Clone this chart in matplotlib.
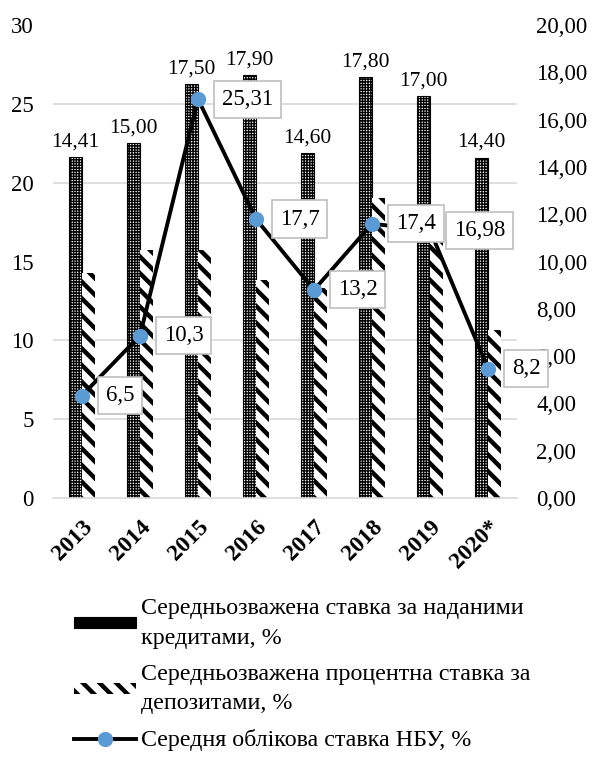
import numpy as np
import matplotlib
matplotlib.use("Agg")
import matplotlib.pyplot as plt
from matplotlib.patches import Patch
from matplotlib.lines import Line2D

plt.rcParams['font.family'] = ['Liberation Serif', 'DejaVu Serif']

# Дані
years = ['2013', '2014', '2015', '2016', '2017', '2018', '2019', '2020*']
credit_rate = [14.41, 15.00, 17.50, 17.90, 14.60, 17.80, 17.00, 14.40]
deposit_rate = [9.5, 10.5, 10.5, 9.2, 8.9, 12.7, 11.4, 7.1]
nbu_rate = [6.5, 10.3, 25.31, 17.7, 13.2, 17.4, 16.98, 8.2]

credit_label = 'Середньозважена ставка за наданими\nкредитами, %'
deposit_label = 'Середньозважена процентна ставка за\nдепозитами, %'
nbu_label = 'Середня облікова ставка НБУ, %'

x = np.arange(len(years))
w = 0.22
blue = '#5b9bd5'

fig = plt.figure(figsize=(5.95, 7.62), dpi=100)
ax = fig.add_axes([0.089, 0.3465, 0.78, 0.6205])  # стовпці, права шкала

# стовпці: кредити (густа сітка)
plt.rcParams['hatch.linewidth'] = 1.0
ax.bar(x - w / 2, credit_rate, w, facecolor='white', edgecolor='black',
       hatch='++++++', linewidth=0.8, zorder=2)
# стовпці: депозити (товсті косі смуги)
plt.rcParams['hatch.linewidth'] = 3.2
ax.bar(x + w / 2, deposit_rate, w, facecolor='white', edgecolor='black',
       hatch='\\\\', linewidth=0, zorder=2)

for xi, v in zip(x, credit_rate):
    ax.annotate(f'{v:.2f}'.replace('.', ','), (xi - w / 2, v), xytext=(0, 4),
                textcoords='offset points', ha='center', va='bottom', fontsize=15.5)

ax.set_ylim(0, 20)
ax.set_xlim(-0.5, len(years) - 0.5)

# лінія облікової ставки, ліва шкала
ax2 = ax.twinx()
ax2.plot(x, nbu_rate, color='black', linewidth=2.8, marker='o', markersize=10,
         markerfacecolor=blue, markeredgecolor=blue, zorder=3)
for xi, v in zip(x, nbu_rate):
    ax2.annotate(str(v).replace('.', ','), (xi, v), xytext=(17, 0),
                 textcoords='offset points', ha='left', va='center', fontsize=16.5,
                 bbox=dict(boxstyle='square,pad=0.35', facecolor='white',
                           edgecolor='#bfbfbf', linewidth=1.2), zorder=4)
ax2.set_ylim(0, 30)
ax2.set_yticks(np.arange(0, 31, 5))
ax2.yaxis.tick_left()
ax2.tick_params(axis='y', length=0, labelsize=16.5, pad=14)
for s in ax2.spines.values():
    s.set_visible(False)
ax2.spines['bottom'].set_visible(True)
ax2.spines['bottom'].set_color('#d9d9d9')
ax2.spines['bottom'].set_linewidth(1.2)

# права шкала для стовпців
ax.yaxis.tick_right()
ax.set_yticks(np.arange(0, 20.01, 2))
ax.set_yticklabels([f'{v:.2f}'.replace('.', ',') for v in np.arange(0, 20.01, 2)])
# сітка через кожні 5 одиниць лівої шкали
ax.set_yticks(np.linspace(0, 20, 7), minor=True)
ax.yaxis.grid(True, which='minor', color='#d9d9d9', linewidth=1.2, zorder=0)
ax.set_axisbelow(True)
ax.tick_params(axis='y', which='both', length=0, labelsize=16.5, pad=14,
               left=False, labelleft=False, right=True, labelright=True)
ax.set_xticks(x)
ax.set_xticklabels(years, rotation=45, ha='right', va='top', rotation_mode='anchor',
                   fontsize=17, fontweight='bold')
ax.tick_params(axis='x', length=0, pad=13)
for s in ax.spines.values():
    s.set_visible(False)

# легенда
plt.rcParams['hatch.linewidth'] = 1.0
h1 = Patch(facecolor='white', edgecolor='black', hatch='+++++', linewidth=0.8)
plt.rcParams['hatch.linewidth'] = 3.2
h2 = Patch(facecolor='white', edgecolor='black', hatch='\\\\', linewidth=0)
h3 = Line2D([], [], color='black', linewidth=2.8, marker='o', markersize=10,
            markerfacecolor=blue, markeredgecolor=blue)
leg = fig.legend([h1, h2, h3], [credit_label, deposit_label, nbu_label],
                 loc='upper left', bbox_to_anchor=(0.108, 0.228), frameon=False,
                 fontsize=17.3, handlelength=2.6, handleheight=0.35, handletextpad=0.2,
                 labelspacing=0.62, borderaxespad=0)
for t in leg.get_texts():
    t.set_linespacing(1.55)

fig.savefig('out.png', dpi=100)
